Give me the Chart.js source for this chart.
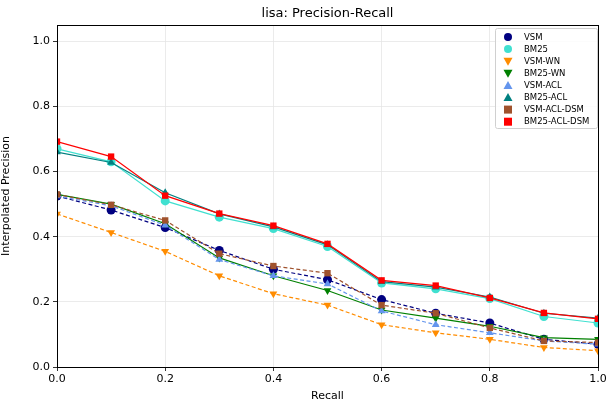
<!DOCTYPE html>
<html><head><meta charset="utf-8">
<script src="https://cdn.jsdelivr.net/npm/chart.js@4/dist/chart.umd.min.js"></script>
<style>html,body{margin:0;padding:0;background:#fff}#wrap{width:613px;height:403px}</style>
</head><body><div id="wrap"><canvas id="c" width="613" height="403"></canvas></div>
<script>
const recall = [0.0,0.1,0.2,0.3,0.4,0.5,0.6,0.7,0.8,0.9,1.0];
const yTicks = [0.0,0.2,0.4,0.6,0.8,1.0];
const chartTitle = 'lisa: Precision-Recall';
const seriesNames = ["VSM","BM25","VSM-WN","BM25-WN","VSM-ACL","BM25-ACL","VSM-ACL-DSM","BM25-ACL-DSM"];
const vsm        = [0.525,0.482,0.428,0.358,0.300,0.268,0.207,0.165,0.135,0.085,0.070];
const bm25       = [0.670,0.630,0.510,0.460,0.425,0.370,0.258,0.240,0.210,0.155,0.135];
const vsmWn      = [0.470,0.413,0.355,0.280,0.225,0.190,0.130,0.105,0.085,0.060,0.050];
const bm25Wn     = [0.530,0.500,0.440,0.335,0.280,0.235,0.175,0.150,0.125,0.090,0.085];
const vsmAcl     = [0.525,0.495,0.435,0.330,0.280,0.255,0.172,0.130,0.105,0.080,0.070];
const bm25Acl    = [0.660,0.628,0.535,0.470,0.430,0.375,0.262,0.245,0.215,0.165,0.150];
const vsmAclDsm  = [0.530,0.498,0.450,0.348,0.310,0.288,0.190,0.165,0.120,0.080,0.075];
const bm25AclDsm = [0.692,0.646,0.526,0.471,0.434,0.378,0.266,0.250,0.212,0.166,0.148];

const values = [vsm,bm25,vsmWn,bm25Wn,vsmAcl,bm25Acl,vsmAclDsm,bm25AclDsm];
const colors = ["#000080","#40E0D0","#FF8C00","#008000","#6495ED","#008080","#A0522D","#FF0000"];
const shapes = ["circle","circle","triangle","triangle","triangle","triangle","rect","rect"];
const rots   = [0,0,180,180,0,0,0,0];
const dashed = [true,false,true,false,true,false,true,false];

const datasets = seriesNames.map((n,i)=>({
  label:n,
  data: recall.map((x,j)=>({x:x,y:values[i][j]})),
  borderColor: colors[i], backgroundColor: colors[i],
  borderWidth: 1.2, borderDash: dashed[i]?[4,2.5]:[],
  pointStyle: shapes[i], pointRotation: rots[i],
  pointRadius: 4.5, pointBorderWidth:0,
  order: seriesNames.length - i, tension:0
}));

const frame = {
  id:'frame',
  afterDraw(chart){
    const {ctx, chartArea:a} = chart;
    ctx.save();
    ctx.strokeStyle='#000'; ctx.lineWidth=1;
    ctx.strokeRect(a.left+0.5, a.top+0.5, a.right-a.left, a.bottom-a.top);
    // title
    ctx.fillStyle='#000';
    ctx.font='13px "DejaVu Sans", sans-serif';
    ctx.textAlign='center'; ctx.textBaseline='middle';
    ctx.fillText(chartTitle, (a.left+a.right)/2, 14);
    // legend
    const w=102, h=100, x0=a.right-w-1, y0=a.top+3;
    ctx.fillStyle='rgba(255,255,255,0.85)';
    ctx.strokeStyle='#d0d0d0';
    ctx.beginPath();
    if (ctx.roundRect) ctx.roundRect(x0+0.5,y0+0.5,w,h,2); else ctx.rect(x0+0.5,y0+0.5,w,h);
    ctx.fill(); ctx.stroke();
    ctx.font='8.5px "DejaVu Sans", sans-serif';
    ctx.textBaseline='middle'; ctx.textAlign='left';
    seriesNames.forEach((n,i)=>{
      const cy = y0+9 + i*12.1, cx = x0+13;
      ctx.fillStyle=colors[i];
      ctx.beginPath();
      if (shapes[i]==='circle'){ ctx.arc(cx,cy,4,0,Math.PI*2); }
      else if (shapes[i]==='rect'){ ctx.rect(cx-4,cy-4,8,8); }
      else if (rots[i]===180){ ctx.moveTo(cx-4.5,cy-3.5); ctx.lineTo(cx+4.5,cy-3.5); ctx.lineTo(cx,cy+4.5); ctx.closePath(); }
      else { ctx.moveTo(cx-4.5,cy+3.5); ctx.lineTo(cx+4.5,cy+3.5); ctx.lineTo(cx,cy-4.5); ctx.closePath(); }
      ctx.fill();
      ctx.fillStyle='#000';
      ctx.fillText(n, x0+29, cy+0.5);
    });
    ctx.restore();
  }
};

new Chart(document.getElementById('c'), {
  type:'line',
  data:{datasets},
  plugins:[frame],
  options:{
    responsive:false, animation:false,
    layout:{padding:{left:0,right:15,top:25,bottom:0}},
    plugins:{ legend:{display:false}, tooltip:{enabled:false}, title:{display:false} },
    scales:{
      x:{type:'linear',min:0,max:1,
        afterBuildTicks(s){ s.ticks = recall.filter((v,i)=>i%2===0).map(v=>({value:v})); },
        afterFit(s){ s.height=36; },
        ticks:{color:'#000',font:{family:'"DejaVu Sans", sans-serif',size:11},padding:2,
          callback:v=>Number(v).toFixed(1), maxRotation:0},
        grid:{color:'#e6e6e6',borderDash:[2,2],tickColor:'#000',tickLength:4,lineWidth:0.8},
        border:{color:'#000'},
        title:{display:true,text:'Recall',color:'#000',font:{family:'"DejaVu Sans", sans-serif',size:11},padding:{top:0,bottom:0}}
      },
      y:{type:'linear',min:0,max:1.05,
        afterBuildTicks(s){ s.ticks = yTicks.map(v=>({value:v})); },
        afterFit(s){ s.width=57; },
        ticks:{color:'#000',font:{family:'"DejaVu Sans", sans-serif',size:11},padding:3,
          callback:v=>Number(v).toFixed(1)},
        grid:{color:'#e6e6e6',borderDash:[2,2],tickColor:'#000',tickLength:4,lineWidth:0.8},
        border:{color:'#000'},
        title:{display:true,text:'Interpolated Precision',color:'#000',font:{family:'"DejaVu Sans", sans-serif',size:11},padding:{top:0,bottom:2}}
      }
    }
  }
});
</script></body></html>
